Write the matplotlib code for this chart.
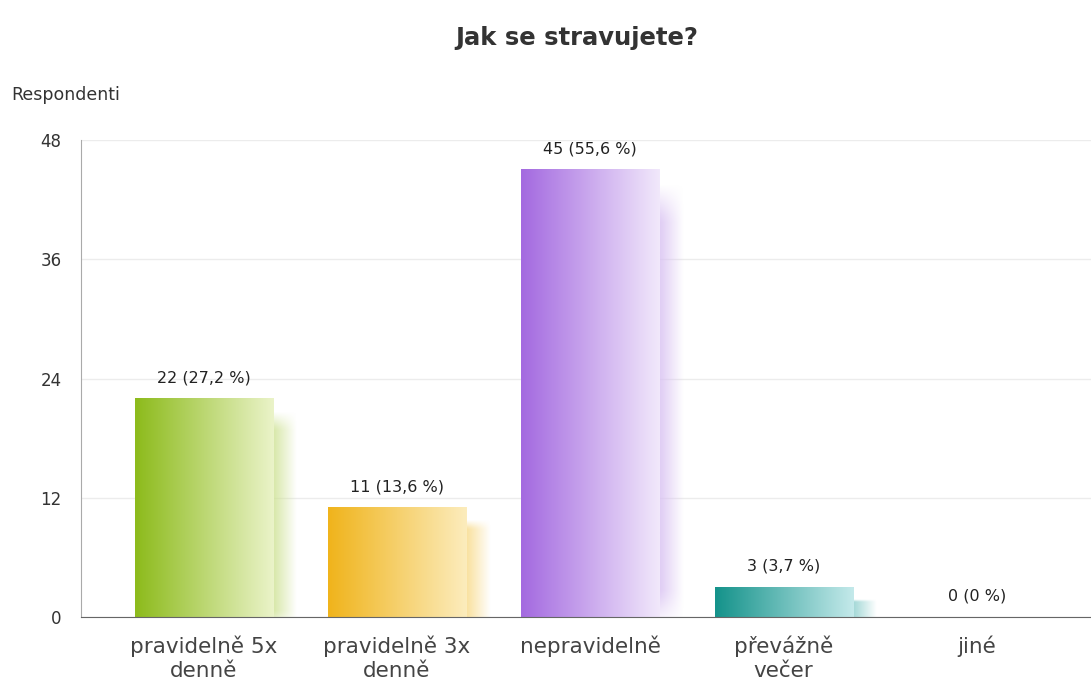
import matplotlib
matplotlib.use("Agg")
import matplotlib.pyplot as plt
import numpy as np
from matplotlib.colors import to_rgb

# data
categories = ["pravidelně 5x\ndenně", "pravidelně 3x\ndenně", "nepravidelně",
              "převážně\nvečer", "jiné"]
counts = [22, 11, 45, 3, 0]
percents = ["27,2", "13,6", "55,6", "3,7", "0"]
dark_colors = ["#8dbb1c", "#f0b41c", "#a46ae0", "#15938b", "#999999"]
light_colors = ["#eaf3c8", "#fcecbc", "#f1e8fb", "#c3e9ea", "#eeeeee"]
y_ticks = [0, 12, 24, 36, 48]

plt.rcParams["font.family"] = ["DejaVu Sans"]

fig = plt.figure(figsize=(10.91, 6.86), dpi=100)
ax = fig.add_axes([0.0742, 0.1006, 0.9258, 0.6953])

bar_w = 0.714


def hgrad(c0, c1, n=64):
    a = np.array(to_rgb(c0))
    b = np.array(to_rgb(c1))
    t = np.linspace(0, 1, n)[None, :, None]
    return a[None, None, :] * (1 - t) + b[None, None, :] * t


def shadow(c0, c1, h=60, w=60, alpha=0.8):
    col = 0.3 * np.array(to_rgb(c0)) + 0.7 * np.array(to_rgb(c1))
    yy = np.linspace(0, 1, h)[:, None]
    xx = np.linspace(0, 1, w)[None, :]
    ex = np.clip(np.minimum(xx, 1 - xx) / 0.15, 0, 1)
    ey = np.clip(np.minimum(yy, 1 - yy) / 0.08, 0, 1)
    img = np.zeros((h, w, 4))
    img[..., :3] = col
    img[..., 3] = alpha * ex * ey
    return img


for i, (v, c0, c1) in enumerate(zip(counts, dark_colors, light_colors)):
    x0 = i - bar_w / 2
    x1 = i + bar_w / 2
    if v > 0:
        # soft shadow behind/right of the bar
        ax.imshow(shadow(c0, c1), extent=[x0 + 0.05, x1 + 0.13, -1.4, v - 1.2],
                  aspect="auto", zorder=2, interpolation="bilinear")
        ax.imshow(hgrad(c0, c1), extent=[x0, x1, 0, v], aspect="auto",
                  zorder=3, interpolation="bilinear")
    ax.annotate(f"{v} ({percents[i]} %)", (i, v), xytext=(0, 15),
                textcoords="offset points", ha="center", va="center",
                fontsize=11.5, color="#222222", zorder=5)

ax.set_xlim(-0.634, 4.59)
ax.set_ylim(0, 48)
ax.set_yticks(y_ticks)
ax.set_xticks(range(len(categories)))
ax.set_xticklabels(categories, fontsize=15.5, color="#444444", linespacing=1.3)
ax.tick_params(axis="x", length=0, pad=13)
ax.tick_params(axis="y", length=0, pad=14, labelsize=12, labelcolor="#333333")
ax.yaxis.grid(True, color="#ececec", lw=1)
ax.set_axisbelow(True)
for s in ("top", "right"):
    ax.spines[s].set_visible(False)
ax.spines["left"].set_color("#aaaaaa")
ax.spines["bottom"].set_color("#666666")
ax.spines["bottom"].set_zorder(4)

fig.text(0.529, 0.945, "Jak se stravujete?", ha="center", va="center",
         fontsize=17.5, fontweight="bold", color="#333333")
fig.text(0.010, 0.8615, "Respondenti", ha="left", va="center",
         fontsize=12.5, color="#333333")

fig.savefig("out.png", dpi=100)
